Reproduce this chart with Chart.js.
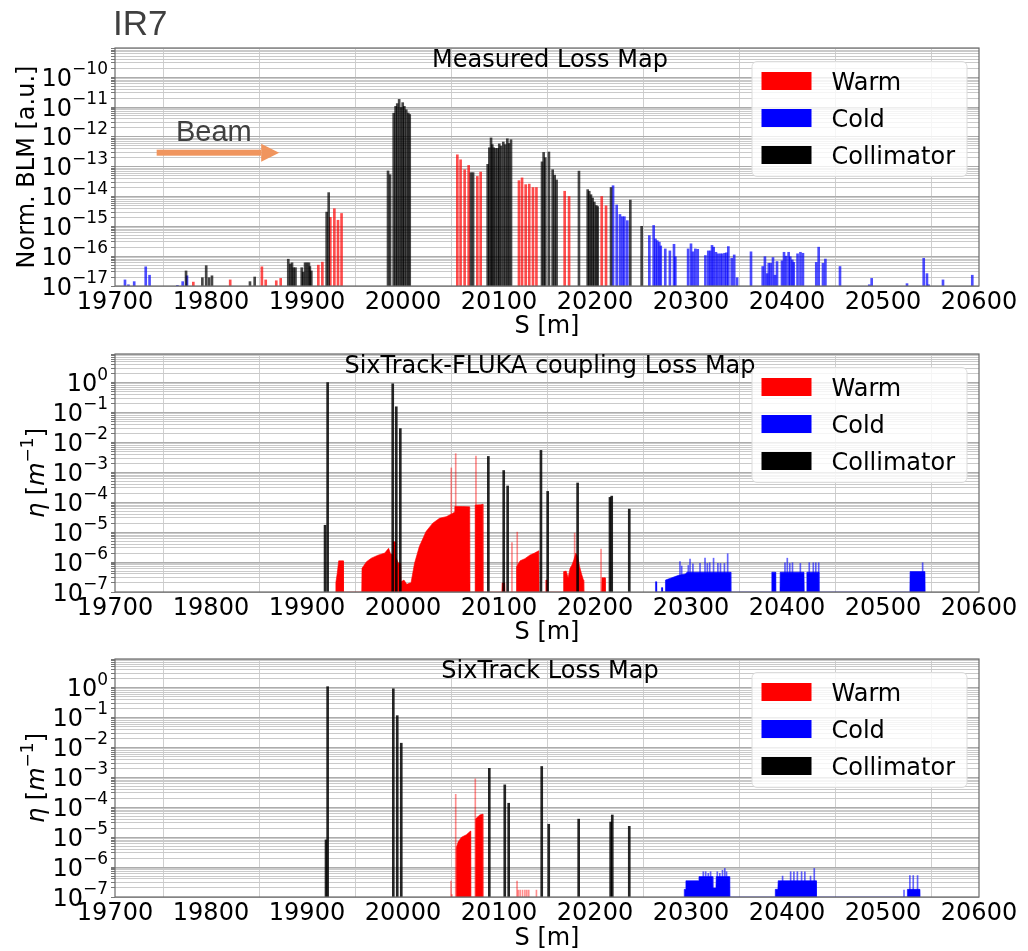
<!DOCTYPE html>
<html>
<head>
<meta charset="utf-8">
<script src="https://cdn.jsdelivr.net/npm/chart.js@4.4.1/dist/chart.umd.min.js"></script>
<style>
  body { margin: 0; background: #fff; }
  #wrap { position: relative; width: 1028px; height: 951px; overflow: hidden; }
  canvas { position: absolute; left: 0; }
</style>
</head>
<body>
<div id="wrap">
  <canvas id="c1" width="1028" height="345" style="top:0px"></canvas>
  <canvas id="c2" width="1028" height="305" style="top:345px"></canvas>
  <canvas id="c3" width="1028" height="301" style="top:650px"></canvas>
</div>
<script>
// ---- Measured loss map: [s (m), normalised BLM signal] ----
const measWarm = [[19781.6,1.35e-17],[19820,1.6e-17],[19853,4.4e-17],[19857,1.6e-17],[19868,1.5e-17],[19872.6,1.8e-17],
  [19911.8,5e-17],[19916,6.3e-17],[19924.3,2e-15],[19928.5,3.9e-15],[19932.3,1.6e-15],[19936,2.7e-15],
  [20056.6,2.5e-13],[20060,1.7e-13],[20064.2,7.9e-14],[20068.4,1.1e-13],[20077.4,4.7e-14],[20080.9,6.6e-14],
  [20120.8,3.4e-14],[20124,4.2e-14],[20127.8,2.5e-14],[20131.5,2.6e-14],[20135.4,2e-14],[20139,2e-14],
  [20168.4,1.5e-14],[20173,1e-14],[20207,1e-14],[20211.5,4.9e-15]];
const measCold = [[19710.4,1.6e-17],[19714,1.1e-17],[19720,1.4e-17],[19732,4.4e-17],[19736,2.3e-17],[19765,1.05e-17],
  [19770.5,1.4e-17],[19775,2.2e-17],[20218.8,2.3e-14],[20222.6,5.2e-15],[20226,2.5e-15],[20228.5,2.1e-15],
  [20230.6,2.1e-15],[20233.7,1.55e-15],[20256.6,4.9e-16],[20261.1,1.07e-15],[20263,3.8e-16],[20264.9,3.3e-16],
  [20267,2.95e-16],[20268.5,2.2e-16],[20273.2,1.75e-16],[20278,1.5e-16],[20282.3,2.5e-16],[20283.7,9.6e-17],
  [20297,1.75e-16],[20300,2.6e-16],[20302,1.4e-16],[20304.5,1.75e-16],[20307,1.7e-16],[20315,1.05e-16],
  [20318,1.5e-16],[20320,1.5e-16],[20321.9,2.3e-16],[20323.6,2e-16],[20326,1.35e-16],[20328,1.2e-16],
  [20330.5,1.2e-16],[20332.5,1.2e-16],[20335,1.25e-16],[20337,1.3e-16],[20338.9,2.1e-16],[20342.4,8.5e-17],
  [20345,1.1e-16],[20348,1.9e-17],[20362.5,1.4e-16],[20374.7,4.5e-17],[20377,9.6e-17],[20379.3,2.6e-17],
  [20381,5.8e-17],[20383,5.8e-17],[20385.4,9e-17],[20387.5,2.3e-17],[20389.6,6.6e-17],[20394.8,7e-17],
  [20396.9,1.35e-16],[20399,1e-16],[20401.7,1.35e-16],[20403.4,9.6e-17],[20405.5,7.5e-17],[20407,6.2e-17],
  [20411,1.2e-16],[20414,1.35e-16],[20416.6,1.25e-16],[20430.5,6.2e-17],[20433,2e-16],[20437.5,5.8e-17],
  [20440,8e-17],[20455.2,4.5e-17],[20485.7,1.1e-17],[20488.2,1.8e-17],[20525,1.2e-17],[20542.4,8.5e-17],
  [20545.8,2.6e-17],[20547.5,1.1e-17],[20562.5,1.6e-17],[20593,2.3e-17]];
const measColl = [[19774,3.2e-17],[19791,1.9e-17],[19795,4.8e-17],[19798,1.9e-17],[19801,2.2e-17],[19840.6,1.4e-17],
  [19845.5,2e-17],[19880.5,7.9e-17],[19882.6,5.5e-17],[19884.4,6e-17],[19886,4.1e-17],[19888,4.1e-17],
  [19894.5,4.1e-17],[19896,2.9e-17],[19898,6e-17],[19900,6e-17],[19902,6e-17],[19903,4.5e-17],[19904.5,3.2e-17],
  [19920.5,3e-15],[19922.6,1.35e-14],[19984.4,7.2e-14],[19986.5,5.4e-14],[19990.3,6.2e-12],[19992.3,1.05e-11],
  [19994,1.3e-11],[19996,1.8e-11],[19998,9.6e-12],[19999.7,1.4e-11],[20001.4,1.05e-11],[20003.4,8.1e-12],
  [20005.5,6.3e-12],[20007,5.6e-12],[20070.8,6.3e-14],[20073,6.3e-14],[20088.2,1.2e-13],[20089.9,4.3e-13],
  [20091.7,9.2e-13],[20093,5.5e-13],[20094.5,4.3e-13],[20096.5,4.1e-13],[20098.6,4.1e-13],[20100.3,5.8e-13],
  [20102,4.9e-13],[20104.5,6.7e-13],[20106.5,5.5e-13],[20108.7,8.6e-13],[20110.4,6e-13],[20112.5,8e-13],
  [20144.8,1.45e-13],[20146.5,3e-13],[20148.2,2e-13],[20152,3.1e-13],[20155.9,7.9e-14],[20158,5.2e-14],
  [20160,3.6e-14],[20183.3,7.1e-14],[20192.4,1.7e-14],[20194,1.5e-14],[20195.8,1.15e-14],[20197.5,8.9e-15],
  [20199.3,6.5e-15],[20201.4,5e-15],[20202.8,4.6e-15],[20216.7,2e-14],[20236.8,7.6e-15],[20248.6,1e-15]];

// ---- SixTrack-FLUKA coupling: [s (m), eta (1/m)] ----
const flukaColl = [[19918.8,1.7e-5],[19921.5,1.0],[19989.3,0.91],[19993,0.155],[19997.2,0.029],[20088.9,3.4e-3],
  [20104.9,1.15e-3],[20109,3.5e-4],[20143.7,5.4e-3],[20150.7,2.3e-4],[20181.9,4.4e-4],[20215.6,1.45e-4],
  [20217.4,1.6e-4],[20235.7,5.9e-5]];
const flukaWarmSpikes = [[20050.3,1.4e-3],[20054.9,4.2e-3],[20076,3.5e-3],[20113.5,4.5e-6],[20119,1e-5],
  [20178.8,9.3e-6],[20206.3,2.7e-6]];
const flukaWarmArea = [[19929.8,1e-7],[19930,2e-7],[19931.5,4.2e-7],[19933,1.1e-6],[19937.8,1.1e-6],[19938,1e-7],
  [19957,1e-7],[19957.3,6.2e-7],[19962,1.03e-6],[19967,1.35e-6],[19974,1.7e-6],[19981,2e-6],[19985,2.9e-6],
  [19987,1.9e-6],[19989,1.8e-6],[19989.5,4.8e-6],[19992,4.8e-6],[19992.5,1.5e-6],[19995,9.4e-7],[19997.5,9e-7],
  [19998,2.2e-7],[20001,2.5e-7],[20004,1.8e-7],[20007,2e-7],[20008.3,2e-7],[20012,9.1e-7],[20017,3.3e-6],
  [20024,1.05e-5],[20031,2e-5],[20038,2.9e-5],[20045,3.3e-5],[20052,4.3e-5],[20053.5,4.6e-5],[20054,7.2e-5],
  [20062,7.2e-5],[20069.5,7e-5],[20069.8,1e-7],[20075,1e-7],[20075.2,8.1e-5],[20081,8.3e-5],[20083,8.6e-5],
  [20083.3,1e-7],[20103,1e-7],[20103.3,2e-7],[20106,2e-7],[20106.3,1e-7],[20118,1e-7],[20118.3,7e-7],
  [20122,1.1e-6],[20127,1.3e-6],[20132,1.7e-6],[20137,2e-6],[20141.5,2.4e-6],[20141.8,1e-7],
  [20148.5,1e-7],[20148.8,2.5e-7],[20150,2.5e-7],[20150.3,1e-7],[20167,1e-7],[20167.3,4.8e-7],[20170,5e-7],
  [20172,3e-7],[20174,6.2e-7],[20176,8e-7],[20178,1.2e-6],[20180,2e-6],[20182,1.5e-6],[20184,7e-7],
  [20186,4e-7],[20188,2.5e-7],[20188.3,1e-7],[20207,1e-7],[20207.3,3e-7],[20210.5,3e-7],[20210.8,1e-7]];
const flukaColdArea = [[20262.8,1e-7],[20263,2.2e-7],[20264,2.2e-7],[20264.2,1e-7],[20269,1e-7],[20269.2,1.4e-7],
  [20270.2,1.4e-7],[20270.4,1e-7],[20273.2,1e-7],[20273.4,2.5e-7],[20280,3e-7],[20287,3.6e-7],[20294,4e-7],
  [20296,4.6e-7],[20341.3,4.6e-7],[20341.5,1e-7],[20384,1e-7],[20384.2,4.6e-7],[20388,4.6e-7],[20388.2,1e-7],
  [20392.7,1e-7],[20392.9,4.6e-7],[20417.7,4.6e-7],[20418,1e-7],[20420.5,1e-7],[20420.7,4.6e-7],[20433,4.6e-7],
  [20433.2,1e-7],[20528,1e-7],[20528.2,4.8e-7],[20543.7,4.8e-7],[20544,1e-7]];
const flukaColdSpikes = [[20288.5,1.03e-6],[20290.3,7.4e-7],[20297.2,7.7e-7],[20299,1.25e-6],[20302,8.7e-7],
  [20309.4,9e-7],[20314.6,1.35e-6],[20317,9e-7],[20319.5,9.5e-7],[20323.5,1.35e-6],[20328,9e-7],[20330.7,9e-7],
  [20334.8,9e-7],[20338.2,1.9e-6],[20397.9,9.5e-7],[20400.3,1.35e-6],[20402.9,9e-7],[20405.7,9.5e-7],
  [20413.9,9e-7],[20423.2,9.5e-7],[20427.4,9.5e-7],[20430,9.5e-7],[20433,9.5e-7],[20541.3,9.5e-7]];

// ---- SixTrack: [s (m), eta (1/m)] ----
const stColl = [[19919.8,8.1e-6],[19921.5,1.07],[19989.9,0.91],[19994,0.115],[19998.2,0.0138],[20089.9,2e-3],
  [20106,5.6e-4],[20110.1,1.36e-4],[20144.5,2.3e-3],[20151.8,2.7e-5],[20183,4e-5],[20216.3,3.2e-5],
  [20218,5.5e-5],[20235.7,2.3e-5]];
const stWarmSpikes = [[20050,3.4e-7],[20051,1.2e-7],[20054.9,2.7e-4],[20075.3,8.9e-4],[20118.8,3.4e-7],
  [20120,1.7e-7],[20122,1.7e-7],[20124.5,1.7e-7],[20127,1.7e-7],[20129,1.7e-7],[20131,1.7e-7],[20139,1.7e-7]];
const stWarmArea = [[20055.3,1e-7],[20055.5,4.4e-6],[20057.5,7e-6],[20061,1e-5],[20066,1.2e-5],[20070.3,1.6e-5],
  [20070.5,1e-7],[20075.5,1e-7],[20075.7,4.1e-5],[20080,5.5e-5],[20083,5.9e-5],[20083.2,1e-7]];
const stColdArea = [[20292.8,1e-7],[20293,1.8e-7],[20294.5,1.8e-7],[20294.7,3.5e-7],[20308,3.5e-7],[20308.3,4.8e-7],
  [20322.5,4.8e-7],[20322.8,2e-7],[20326,2e-7],[20326.3,4.8e-7],[20340,4.8e-7],[20340.3,1e-7],
  [20387.6,1e-7],[20387.8,1.8e-7],[20390.5,1.8e-7],[20390.8,3.5e-7],[20430.4,3.5e-7],[20430.6,1e-7],
  [20525.2,1e-7],[20525.4,1.8e-7],[20538.5,1.8e-7],[20538.7,1e-7]];
const stColdSpikes = [[20312.8,7e-7],[20315.3,7e-7],[20318,6.2e-7],[20320.4,7e-7],[20327.4,7e-7],[20330,6.2e-7],
  [20332.8,7.8e-7],[20335.2,9e-7],[20337,7e-7],[20395.4,5e-7],[20403.8,7e-7],[20407.2,7e-7],[20410.8,7e-7],
  [20415.2,7e-7],[20418.6,7e-7],[20424.5,5e-7],[20428.4,9e-7],[20521.9,1.7e-7],[20528,5.2e-7],
  [20531.5,5.2e-7],[20536,5.2e-7]];

// axis decades for the tick labels
const measExps = [-17, -16, -15, -14, -13, -12, -11, -10];
const etaExps = [-7, -6, -5, -4, -3, -2, -1, 0];
const legendLabels = ['Warm', 'Cold', 'Collimator'];

const RED = '#ff0000', BLUE = '#0000ff', BLACK = '#000000';
const FONT = '"DejaVu Sans", sans-serif';
Chart.defaults.font.family = FONT;
Chart.defaults.font.size = 24;
Chart.defaults.color = '#000';

const toXY = arr => arr.map(([x, y]) => ({ x, y }));

function bars(label, arr, color, thick) {
    return { type: 'bar', label, data: toXY(arr), backgroundColor: color, borderWidth: 0,
             barThickness: thick, grouped: false };
}
function area(label, arr, color) {
    return { type: 'line', label, data: toXY(arr), backgroundColor: color, borderColor: color,
             borderWidth: 0.6, pointRadius: 0, fill: 'start', tension: 0 };
}

// draws frame, y labels, titles, legend and notes
const decor = {
    id: 'decor',
    afterDatasetsDraw(chart, args, o) {
        const { ctx, chartArea: a, scales: { y } } = chart;
        ctx.save();
        ctx.strokeStyle = '#6a6a6a';
        ctx.lineWidth = 1.2;
        ctx.strokeRect(a.left, a.top, a.right - a.left, a.bottom - a.top);

        // y tick labels 10^n
        ctx.fillStyle = '#000';
        ctx.textAlign = 'left';
        ctx.textBaseline = 'alphabetic';
        o.exps.forEach(e => {
            const py = y.getPixelForValue(Math.pow(10, e));
            const sup = e < 0 ? '\u2212' + (-e) : String(e);
            ctx.font = '17px ' + FONT;
            const wS = ctx.measureText(sup).width;
            ctx.font = '24px ' + FONT;
            const wB = ctx.measureText('10').width;
            const x0 = a.left - 7 - wS - wB;
            ctx.fillText('10', x0, py + 8.5);
            ctx.font = '17px ' + FONT;
            ctx.fillText(sup, x0 + wB, py - 3);
        });

        // eta axis title
        if (o.eta) {
            const parts = [['\u03b7', 'italic 24px ' + FONT, 0], [' [', '24px ' + FONT, 0],
                           ['m', 'italic 24px ' + FONT, 0], ['\u22121', '17px ' + FONT, -11], [']', '24px ' + FONT, 0]];
            let total = 0;
            parts.forEach(p => { ctx.font = p[1]; total += ctx.measureText(p[0]).width; });
            ctx.save();
            ctx.translate(44, (a.top + a.bottom) / 2);
            ctx.rotate(-Math.PI / 2);
            let cx = -total / 2;
            parts.forEach(p => {
                ctx.font = p[1];
                ctx.fillText(p[0], cx, p[2]);
                cx += ctx.measureText(p[0]).width;
            });
            ctx.restore();
        }

        // panel title
        ctx.font = '24px ' + FONT;
        ctx.textAlign = 'center';
        ctx.fillText(o.title, (a.left + a.right) / 2 + 3, a.top + 19);

        // legend
        const bw = 215, bh = 115, bx = a.right - 12 - bw, by = a.top + 13.5;
        ctx.beginPath();
        ctx.roundRect(bx, by, bw, bh, 5);
        ctx.fillStyle = 'rgba(255,255,255,0.8)';
        ctx.fill();
        ctx.strokeStyle = '#dcdcdc';
        ctx.lineWidth = 1;
        ctx.stroke();
        const colors = { Warm: RED, Cold: BLUE, Collimator: BLACK };
        ctx.textAlign = 'left';
        legendLabels.forEach((lab, i) => {
            const cy = by + 19.5 + i * 37;
            ctx.fillStyle = colors[lab];
            ctx.fillRect(bx + 9.5, cy - 9, 50, 18);
            ctx.fillStyle = '#000';
            ctx.fillText(lab, bx + 79.5, cy + 9);
        });

        // beam arrow + IR7 label
        if (o.beam) {
            const x = chart.scales.x;
            ctx.fillStyle = '#3f3f3f';
            ctx.font = '35px "Liberation Sans", Arial, sans-serif';
            ctx.fillText('IR7', 113, 35);
            ctx.font = '29px "Liberation Sans", Arial, sans-serif';
            ctx.textAlign = 'center';
            ctx.fillText('Beam', x.getPixelForValue(o.beam.textS), y.getPixelForValue(o.beam.textV));
            const x1 = x.getPixelForValue(o.beam.fromS), x2 = x.getPixelForValue(o.beam.toS);
            const ay = y.getPixelForValue(o.beam.arrowV);
            ctx.fillStyle = '#f0955e';
            ctx.fillRect(x1, ay - 3, x2 - 18 - x1, 6);
            ctx.beginPath();
            ctx.moveTo(x2 - 18, ay - 9);
            ctx.lineTo(x2, ay);
            ctx.lineTo(x2 - 18, ay + 9);
            ctx.closePath();
            ctx.fill();
        }
        ctx.restore();
    }
};

function logTicks(exps, max) {
    return scale => {
        const t = [];
        exps.concat([exps[exps.length - 1] + 1]).forEach(e => {
            for (let m = 1; m <= 9; m++) {
                const v = m * Math.pow(10, e);
                if (v <= max * 1.0001 && v >= Math.pow(10, exps[0]) * 0.999) t.push({ value: v, major: m === 1 });
            }
        });
        scale.ticks = t;
    };
}

function makeChart(id, c) {
    return new Chart(document.getElementById(id), {
        type: 'bar',
        data: { datasets: c.datasets },
        options: {
            responsive: false,
            animation: false,
            events: [],
            layout: { padding: { top: c.padTop, right: 49, bottom: 0, left: 0 } },
            plugins: {
                legend: { display: false },
                tooltip: { enabled: false },
                decor: { exps: c.exps, title: c.title, eta: c.eta, beam: c.beam }
            },
            scales: {
                x: {
                    type: 'linear', min: 19700, max: 20600, offset: false,
                    ticks: { stepSize: 100, callback: v => String(v), padding: 2, maxRotation: 0, autoSkip: false },
                    grid: { color: '#cfcfcf', drawTicks: false },
                    border: { display: false },
                    title: { display: true, text: 'S [m]', font: { size: 24, lineHeight: 1 },
                             padding: { top: 0, bottom: c.xTitlePad } },
                    afterFit: s => { s.height = c.xHeight; }
                },
                y: {
                    type: 'logarithmic', min: c.yMin, max: c.yMax,
                    afterBuildTicks: logTicks(c.exps, c.yMax),
                    ticks: { display: false, autoSkip: false },
                    grid: {
                        color: ctx => (ctx.tick && ctx.tick.major ? '#acacac' : '#cacaca'),
                        tickLength: 4, tickColor: '#777'
                    },
                    border: { display: false },
                    title: c.yTitle ? { display: true, text: c.yTitle, font: { size: 24, lineHeight: 1 },
                                        padding: { top: 16, bottom: 0 } } : { display: false },
                    afterFit: s => { s.width = 115; }
                }
            }
        },
        plugins: [decor]
    });
}

// 1. Measured Loss Map
makeChart('c1', {
    padTop: 48, xHeight: 59, xTitlePad: 6, yMin: 1e-17, yMax: 9.5e-10, exps: measExps,
    title: 'Measured Loss Map', yTitle: 'Norm. BLM [a.u.]',
    beam: { textS: 19803, textV: 7.2e-13, fromS: 19743.4, toS: 19871, arrowV: 2.94e-13 },
    datasets: [
        bars('Collimator', measColl, 'rgba(0,0,0,0.72)', 2),
        bars('Cold', measCold, 'rgba(0,0,255,0.7)', 2),
        bars('Warm', measWarm, 'rgba(255,0,0,0.7)', 2)
    ]
});

// 2. SixTrack-FLUKA coupling Loss Map
makeChart('c2', {
    padTop: 9, xHeight: 58, xTitlePad: 5, yMin: 1e-7, yMax: 9, exps: etaExps,
    title: 'SixTrack-FLUKA coupling Loss Map', eta: true,
    datasets: [
        bars('Collimator', flukaColl, 'rgba(0,0,0,0.85)', 2),
        bars('Cold', flukaColdSpikes, 'rgba(0,0,255,0.6)', 1),
        bars('Warm', flukaWarmSpikes, 'rgba(255,0,0,0.45)', 1),
        area('Cold', flukaColdArea, BLUE),
        area('Warm', flukaWarmArea, RED)
    ]
});

// 3. SixTrack Loss Map
makeChart('c3', {
    padTop: 9, xHeight: 54, xTitlePad: 0, yMin: 1e-7, yMax: 9, exps: etaExps,
    title: 'SixTrack Loss Map', eta: true,
    datasets: [
        bars('Collimator', stColl, 'rgba(0,0,0,0.85)', 2),
        bars('Cold', stColdSpikes, 'rgba(0,0,255,0.6)', 1),
        bars('Warm', stWarmSpikes, 'rgba(255,0,0,0.45)', 1),
        area('Cold', stColdArea, BLUE),
        area('Warm', stWarmArea, RED)
    ]
});
</script>
</body>
</html>
